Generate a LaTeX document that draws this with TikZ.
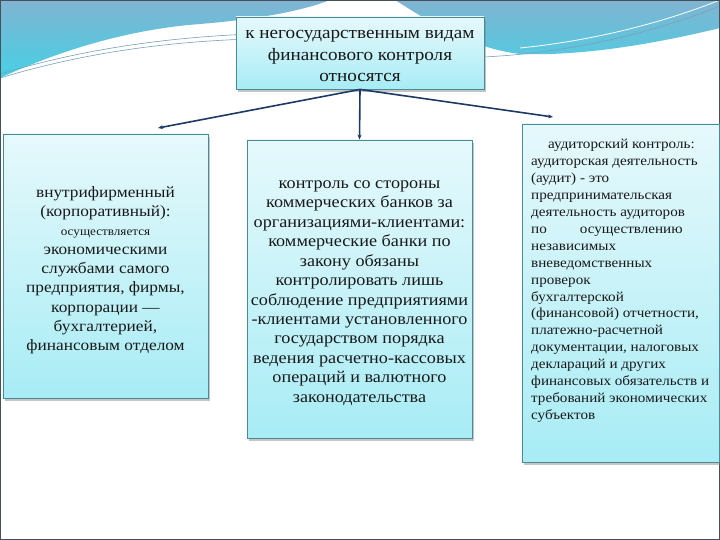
\documentclass[tikz,border=0pt]{standalone}
\usepackage{fontspec}
\setmainfont[FakeStretch=1.1]{Liberation Serif}
\usetikzlibrary{shadows,arrows.meta}
\definecolor{boxline}{RGB}{72,138,150}
\definecolor{boxtop}{RGB}{230,249,252}
\definecolor{boxbot}{RGB}{168,236,245}
\definecolor{arrowc}{RGB}{28,58,100}
\definecolor{bandtop}{RGB}{128,180,210}
\definecolor{bandbot}{RGB}{70,208,228}
\definecolor{wavec}{RGB}{120,160,185}
\definecolor{framec}{RGB}{70,80,90}
\tikzset{
  infobox/.style={draw=boxline, line width=0.9bp, top color=boxtop, bottom color=boxbot,
    drop shadow={shadow xshift=2bp, shadow yshift=-3bp, opacity=0.45},
    inner sep=0pt},
  boxtext/.style={inner sep=0pt, align=center, text=black!90},
  conn/.style={draw=arrowc, line width=1.6bp, -{Stealth[length=5bp,width=4bp]}},
  wave/.style={draw=wavec, line width=0.6bp},
}
\begin{document}
\begin{tikzpicture}[x=1bp,y=-1bp]
\useasboundingbox (0,0) rectangle (720,540);
\fill[white] (0,0) rectangle (720,540);
% top band
\shade[top color=bandtop, bottom color=bandbot]
  (0,0) -- (330,0) .. controls (300,12) and (250,20) .. (200,24)
        .. controls (120,30) and (50,55) .. (0,78) -- cycle
  (395,0) -- (720,0) -- (720,28) .. controls (650,45) and (580,56) .. (520,54)
        .. controls (470,48) and (430,22) .. (395,0) -- cycle;
\draw[wave] (0,74) .. controls (80,50) and (160,38) .. (250,34) -- (330,32);
\draw[wave] (0,78) .. controls (80,54) and (160,42) .. (250,39) -- (330,37);
\draw[wave] (484,57) .. controls (580,52) and (660,30) .. (720,6);
\draw[wave, white, line width=0.8bp] (520,48) .. controls (600,40) and (670,20) .. (720,0);
% frame
\draw[framec, line width=1.4bp] (0.7,0.7) rectangle (719.3,539.3);

% boxes
\node[infobox, minimum width=248bp, minimum height=72bp] (top) at (360,53) {};
\node[boxtext, font=\fontsize{17.5}{22}\selectfont] (toptext) at (360,56)
  {к негосударственным видам\\финансового контроля\\относятся};

\node[infobox, minimum width=205bp, minimum height=264bp] (left) at (105.5,266) {};
\node[boxtext, font=\fontsize{15.8}{19.2}\selectfont] (lefttext) at (105.5,270)
  {внутрифирменный\\(корпоративный):\\{\fontsize{12}{14}\selectfont осуществляется}\\экономическими\\службами самого\\предприятия, фирмы,\\корпорации —\\бухгалтерией,\\финансовым отделом};

\node[infobox, minimum width=225bp, minimum height=298bp] (mid) at (359.5,289) {};
\node[boxtext, font=\fontsize{16.6}{19.5}\selectfont] (midtext) at (359.5,293)
  {контроль со стороны\\коммерческих банков за\\организациями-клиентами:\\коммерческие банки по\\закону обязаны\\контролировать лишь\\соблюдение предприятиями\\-клиентами установленного\\государством порядка\\ведения расчетно-кассовых\\операций и валютного\\законодательства};

\node[infobox, minimum width=197bp, minimum height=338bp] (right) at (620.5,293) {};
\node[anchor=north west, inner sep=0pt, align=left, text=black!90,
      font=\fontsize{13.8}{17}\selectfont] (righttext) at (531,139)
  {\hspace*{17bp}аудиторский контроль:\\аудиторская деятельность\\(аудит) - это\\предпринимательская\\деятельность аудиторов\\по\hspace*{2.4em}осуществлению\\независимых\\вневедомственных\\проверок\\бухгалтерской\\(финансовой) отчетности,\\платежно-расчетной\\документации, налоговых\\деклараций и других\\финансовых обязательств и\\требований экономических\\субъектов};

% connectors
\coordinate (la) at (158,128);
\coordinate (ra) at (553,117);
\draw[conn] (top.south) -- (la);
\draw[conn] (top.south) -- (ra);
\draw[conn] (top.south) -- (mid.north);
\end{tikzpicture}
\end{document}
